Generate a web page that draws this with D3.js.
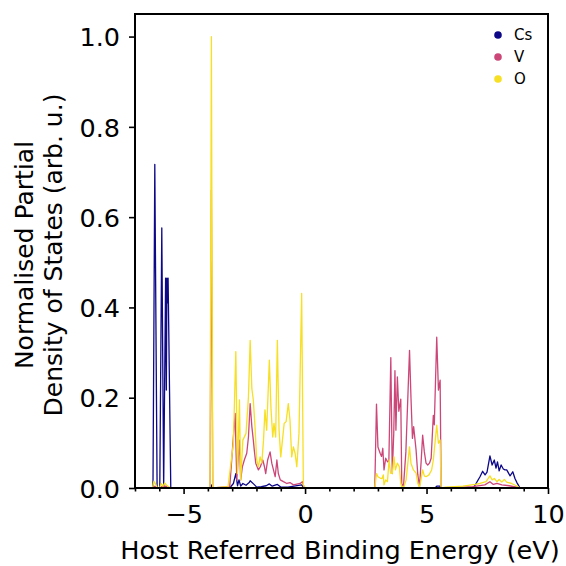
<!DOCTYPE html>
<html>
<head>
<meta charset="utf-8">
<script src="https://cdn.jsdelivr.net/npm/d3@7"></script>
<style>
  html, body { margin: 0; padding: 0; background: #fff; }
  svg { display: block; font-family: "DejaVu Sans", sans-serif; }
</style>
</head>
<body>
<svg id="chart" width="566" height="566"></svg>
<script>
// Partial density of states, energies in eV, values normalised to the O peak.
const csEnergy = [-7, -6.26, -6.185, -6.09, -5.98, -5.897, -5.82, -5.74, -5.71, -5.687, -5.663, -5.638, -5.527,
  -3.9, -3.86, -3.82, -3.1, -2.95, -2.85, -2.78, -2.72, -2.65, -2.56, -2.43, -2.3, -2.26, -2.1, -1.99, -1.8, -1.6,
  -1.47, -1.35, -1.14, -1.0, -0.7, -0.14, -0.05, 5.35, 5.42, 5.55, 5.62, 6.93, 7.2, 7.31, 7.41, 7.49, 7.61, 7.7,
  7.79, 7.86, 7.92, 7.99, 8.07, 8.16, 8.23, 8.3, 8.44, 8.55, 8.64, 8.72, 8.85, 10];
const csValues = [0, 0, 0.717, 0, 0, 0.576, 0, 0.465, 0.217, 0.465, 0.41, 0.465, 0,
  0, 0.007, 0, 0, 0.01, 0.032, 0.005, 0.018, 0.004, 0.01, 0.006, 0.012, 0.016, 0.008, 0.002, 0.003, 0.005,
  0.009, 0.004, 0.008, 0.002, 0.002, 0.007, 0, 0, 0.004, 0.004, 0, 0, 0.025, 0.037, 0.029, 0.035, 0.071, 0.051,
  0.062, 0.044, 0.058, 0.038, 0.051, 0.042, 0.04, 0.04, 0.027, 0.036, 0.021, 0.012, 0, 0];

const vEnergy = [-7, -6.25, -6.18, -6.1, -5.95, -5.9, -5.75, -5.6, -3.91, -3.856, -3.8,
  -3.1, -2.99, -2.88, -2.81, -2.7, -2.65, -2.58, -2.5, -2.4, -2.33, -2.26, -2.19, -2.13, -2.09, -2.03, -1.92,
  -1.84, -1.74, -1.67, -1.62, -1.54, -1.44, -1.37, -1.23, -1.16, -1.1, -1.02, -0.89, -0.75, -0.62, -0.48, -0.2,
  -0.11, -0.03,
  2.87, 2.94, 3.0, 3.09, 3.15, 3.2, 3.25, 3.32, 3.39, 3.45, 3.53, 3.59, 3.65, 3.7, 3.74, 3.8, 3.86, 3.94, 3.98,
  4.05, 4.15, 4.3, 4.36, 4.42, 4.47, 4.57, 4.64, 4.71, 4.78, 4.84, 4.91, 4.98, 5.05, 5.12, 5.19, 5.28, 5.32,
  5.42, 5.49, 5.56, 5.6, 5.8, 6.5, 6.9, 7.4, 7.61, 7.75, 7.9, 8.1, 8.4, 8.85, 10];
const vValues = [0, 0, 0.004, 0, 0, 0.003, 0.004, 0, 0, 0.66, 0,
  0.003, 0.084, 0.165, 0.018, 0.106, 0.018, 0.047, 0.062, 0.077, 0.113, 0.187, 0.136, 0.106, 0.084, 0.055, 0.04,
  0.047, 0.062, 0.047, 0.032, 0.062, 0.08, 0.055, 0.025, 0.062, 0.032, 0.018, 0.014, 0.01, 0.012, 0.007, 0.01,
  0.014, 0,
  0, 0.186, 0.091, 0.077, 0.07, 0.088, 0.04, 0.066, 0.058, 0.06, 0.289, 0.032, 0.12, 0.26, 0.128, 0.246, 0.17, 0.197, 0.01,
  0.003, 0.08, 0.305, 0.2, 0.11, 0.136, 0.084, 0.03, 0.003, 0.06, 0.117, 0.08, 0.055, 0.051, 0.055, 0.066, 0.161, 0.14,
  0.334, 0.217, 0.239, 0, 0.001, 0.002, 0.003, 0.007, 0.014, 0.008, 0.01, 0.007, 0.005, 0, 0];

const oEnergy = [-7, -6.28, -6.22, -6.15, -6.08, -5.98, -5.92, -5.85, -5.78, -5.7, -5.6, -5.52,
  -3.91, -3.856, -3.8,
  -3.17, -2.95, -2.85, -2.78, -2.7, -2.65, -2.56, -2.43, -2.33, -2.26, -2.19, -2.13, -2.06, -1.99, -1.92, -1.85,
  -1.78, -1.71, -1.65, -1.58, -1.47, -1.4, -1.33, -1.28, -1.21, -1.14, -1.07, -1.0, -0.93, -0.86, -0.78, -0.69,
  -0.62, -0.55, -0.48, -0.41, -0.34, -0.25, -0.14, -0.07, 0,
  2.87, 2.94, 3.0, 3.09, 3.17, 3.22, 3.25, 3.32, 3.39, 3.46, 3.52, 3.59, 3.66, 3.72, 3.8, 3.88, 3.94, 3.98, 4.07,
  4.16, 4.3, 4.36, 4.46, 4.57, 4.64, 4.71, 4.77, 4.84, 4.91, 4.98, 5.1, 5.21, 5.28, 5.42, 5.49, 5.56, 5.6,
  5.8, 6.5, 7.0, 7.2, 7.45, 7.5, 7.61, 7.7, 7.79, 7.9, 7.99, 8.1, 8.2, 8.3, 8.5, 8.7, 8.85, 10];
const oValues = [0, 0, 0.015, 0.008, 0, 0, 0.01, 0.004, 0.011, 0.006, 0.002, 0,
  0, 1.0, 0,
  0.003, 0.099, 0.302, 0.032, 0.195, 0.018, 0.106, 0.121, 0.202, 0.327, 0.22, 0.195, 0.136, 0.062, 0.047, 0.069,
  0.055, 0.106, 0.173, 0.128, 0.283, 0.173, 0.113, 0.143, 0.113, 0.327, 0.128, 0.069, 0.106, 0.143, 0.147, 0.187,
  0.15, 0.069, 0.091, 0.077, 0.047, 0.121, 0.431, 0.007, 0,
  0, 0.032, 0.025, 0.022, 0.021, 0.029, 0.007, 0.018, 0.014, 0.062, 0.033, 0.032, 0.069, 0.04, 0.055, 0.047, 0.01, 0.003, 0.003,
  0.018, 0.091, 0.055, 0.04, 0.033, 0.01, 0.003, 0.018, 0.04, 0.027, 0.025, 0.029, 0.04, 0.062, 0.139, 0.099, 0.106, 0,
  0.002, 0.004, 0.008, 0.01, 0.014, 0.018, 0.027, 0.018, 0.021, 0.014, 0.019, 0.013, 0.019, 0.013, 0.01, 0.005, 0, 0];

const seriesNames = ["Cs", "V", "O"];
const seriesColors = ["#0d0887", "#cc4778", "#f7df24"];
const xTicks = [-5, 0, 5, 10];
const yTicks = [0, 0.2, 0.4, 0.6, 0.8, 1.0];

const series = [
  { name: seriesNames[0], color: seriesColors[0], points: csEnergy.map((e, i) => [e, csValues[i]]) },
  { name: seriesNames[1], color: seriesColors[1], points: vEnergy.map((e, i) => [e, vValues[i]]) },
  { name: seriesNames[2], color: seriesColors[2], points: oEnergy.map((e, i) => [e, oValues[i]]) }
];

const svg = d3.select("#chart");
const plot = { left: 135, right: 548, top: 14, bottom: 488 };

const x = d3.scaleLinear().domain([-7, 10]).range([plot.left, plot.right]);
const y = d3.scaleLinear().domain([0, 1.05]).range([plot.bottom, plot.top]);

svg.append("defs").append("clipPath").attr("id", "plot-clip")
  .append("rect")
  .attr("x", plot.left).attr("y", plot.top)
  .attr("width", plot.right - plot.left).attr("height", plot.bottom - plot.top);

const line = d3.line().x(d => x(d[0])).y(d => y(d[1]));

const curves = svg.append("g").attr("clip-path", "url(#plot-clip)");
series.forEach(s => {
  curves.append("path")
    .datum(s.points)
    .attr("fill", "none")
    .attr("stroke", s.color)
    .attr("stroke-width", 1.3)
    .attr("stroke-linejoin", "round")
    .attr("d", line);
});

// Axes
const fmt = v => (v < 0 ? "\u2212" + Math.abs(v) : String(v));
const xAxis = svg.append("g")
  .attr("transform", `translate(0,${plot.bottom})`)
  .call(d3.axisBottom(x).tickValues(xTicks).tickFormat(fmt).tickSizeInner(6).tickSizeOuter(0).tickPadding(10));
const xMinor = svg.append("g")
  .attr("transform", `translate(0,${plot.bottom})`)
  .call(d3.axisBottom(x).tickValues(d3.range(-7, 11).filter(v => !xTicks.includes(v)))
    .tickFormat("").tickSizeInner(3.5).tickSizeOuter(0));

const yAxis = svg.append("g")
  .attr("transform", `translate(${plot.left},0)`)
  .call(d3.axisLeft(y).tickValues(yTicks).tickFormat(d3.format(".1f")).tickSizeInner(6).tickSizeOuter(0).tickPadding(9));

[xAxis, xMinor, yAxis].forEach(g => {
  g.select(".domain").remove();
  g.selectAll(".tick line").attr("stroke", "#000").attr("stroke-width", 1.6);
  g.selectAll(".tick text").attr("fill", "#000").attr("font-size", 25.5)
    .attr("font-family", "DejaVu Sans, sans-serif");
});
xAxis.selectAll(".tick text").attr("dy", "0.75em");
yAxis.selectAll(".tick text").attr("dy", "0.36em");

// Frame
svg.append("rect")
  .attr("x", plot.left).attr("y", plot.top)
  .attr("width", plot.right - plot.left).attr("height", plot.bottom - plot.top)
  .attr("fill", "none").attr("stroke", "#000").attr("stroke-width", 2);

// Axis titles
svg.append("text")
  .attr("x", 340).attr("y", 559)
  .attr("text-anchor", "middle").attr("font-size", 25.6).attr("fill", "#000")
  .text("Host Referred Binding Energy (eV)");

const yTitle = svg.append("text")
  .attr("transform", `translate(0,${(plot.top + plot.bottom) / 2 + 4}) rotate(-90)`)
  .attr("text-anchor", "middle").attr("font-size", 25).attr("fill", "#000");
yTitle.append("tspan").attr("x", 0).attr("y", 33).text("Normalised Partial");
yTitle.append("tspan").attr("x", 0).attr("y", 62).text("Density of States (arb. u.)");

// Legend
const legend = svg.append("g").attr("transform", "translate(498,35)");
series.forEach((s, i) => {
  const row = legend.append("g").attr("transform", `translate(0,${i * 22})`);
  row.append("circle").attr("r", 3.8).attr("fill", s.color);
  row.append("text").attr("x", 16).attr("y", 0).attr("dy", "0.35em")
    .attr("font-size", 15).attr("fill", "#000").text(s.name);
});
</script>
</body>
</html>
